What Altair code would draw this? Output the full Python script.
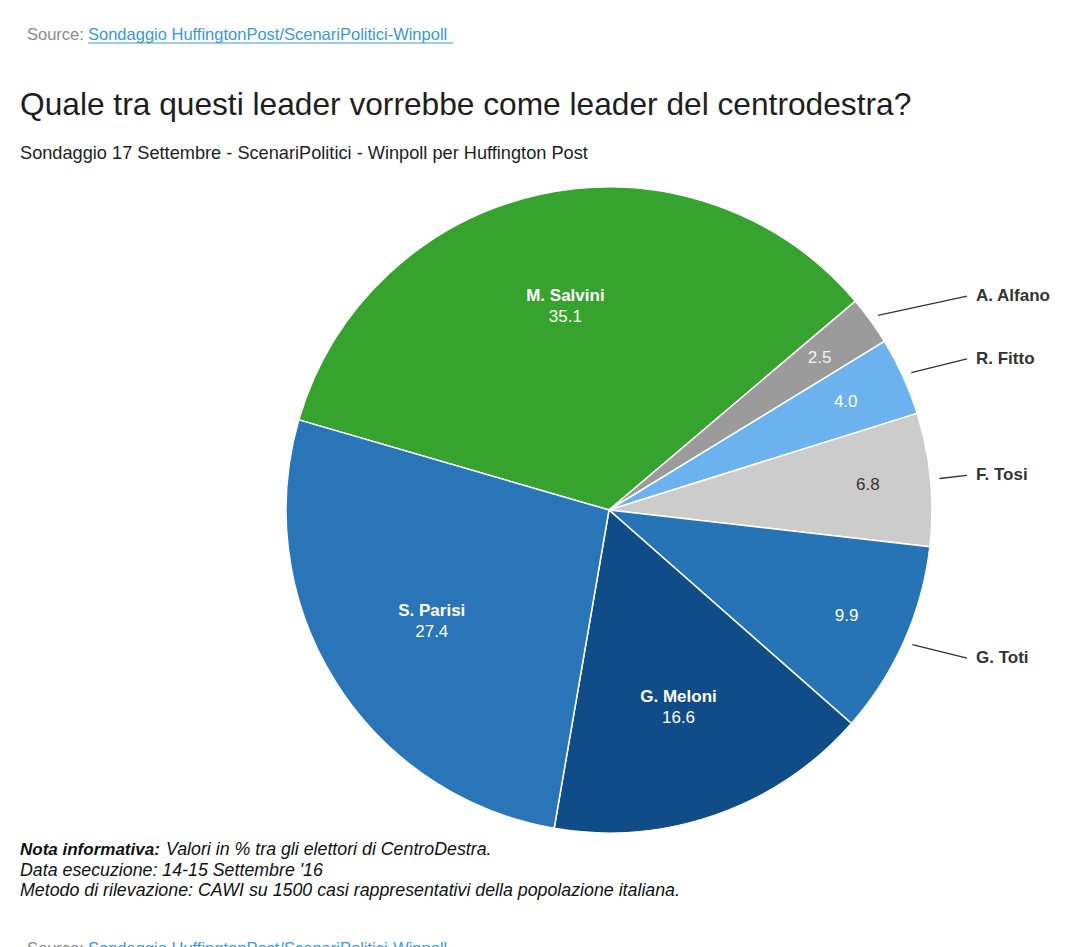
import math
import altair as alt
import pandas as pd

# ---- data ----
leaders = ["M. Salvini", "A. Alfano", "R. Fitto", "F. Tosi", "G. Toti", "G. Meloni", "S. Parisi"]
values = [35.1, 2.5, 4.0, 6.8, 9.9, 16.6, 27.4]
colors = ["#36a32e", "#9b9b9b", "#6cb2ef", "#cccccc", "#2673b5", "#0f4c88", "#2a74b8"]
inside_name = [True, False, False, False, False, True, True]
value_color = ["#ffffff", "#f4f4f4", "#ffffff", "#333333", "#ffffff", "#ffffff", "#ffffff"]

title_text = "Quale tra questi leader vorrebbe come leader del centrodestra?"
subtitle_text = "Sondaggio 17 Settembre - ScenariPolitici - Winpoll per Huffington Post"
source_label = "Source:"
source_link = "Sondaggio HuffingtonPost/ScenariPolitici-Winpoll"
note_bold = "Nota informativa:"
note_lines = [
    "Valori in % tra gli elettori di CentroDestra.",
    "Data esecuzione: 14-15 Settembre '16",
    "Metodo di rilevazione: CAWI su 1500 casi rappresentativi della popolazione italiana.",
]

# ---- layout / style ----
W, H = 1064, 945
CX, CY, R = 601, 502, 323
START = math.radians(-73.8)
FONT = "Liberation Sans"

df = pd.DataFrame({"leader": leaders, "value": values, "idx": range(len(leaders)),
                   "inside": inside_name, "vcolor": value_color})
df["name_in"] = [l if i else "" for l, i in zip(leaders, inside_name)]
df["val_in"] = [f"{v:.1f}" if i else "" for v, i in zip(values, inside_name)]
df["val_out"] = [f"{v:.1f}" if not i else "" for v, i in zip(values, inside_name)]

# derived positions for the external labels / connectors
total = sum(values)
cum = 0.0
mids = []
for v in values:
    mids.append(START + 2 * math.pi * (cum + v / 2) / total)
    cum += v
df["mid"] = mids
df["lx0"] = CX + (R + 9) * df["mid"].apply(math.sin)
df["ly0"] = CY - (R + 9) * df["mid"].apply(math.cos)
df["lx1"] = 959
df["ly1"] = CY - 365 * df["mid"].apply(math.cos)
df["tx"] = 968

theta = alt.Theta("value:Q", stack=True,
                  scale=alt.Scale(range=[START, START + 2 * math.pi]))
order = alt.Order("idx:Q")
color = alt.Color("leader:N", scale=alt.Scale(domain=leaders, range=colors), legend=None)

base = alt.Chart(df)

pie = base.mark_arc(outerRadius=R, stroke="white", strokeWidth=1.5).encode(
    theta=theta, order=order, color=color, x=alt.value(CX), y=alt.value(CY))

name_in = base.mark_text(font=FONT, fontSize=17, fontWeight="bold", color="white", dy=-10).encode(
    theta=theta, order=order, text="name_in:N", radius=alt.value(209),
    x=alt.value(CX), y=alt.value(CY))
val_in = base.mark_text(font=FONT, fontSize=17, color="white", dy=11).encode(
    theta=theta, order=order, text="val_in:N", radius=alt.value(209),
    x=alt.value(CX), y=alt.value(CY))
val_small = base.mark_text(font=FONT, fontSize=17).encode(
    theta=theta, order=order, text="val_out:N", radius=alt.value(260),
    color=alt.Color("vcolor:N", scale=None), x=alt.value(CX), y=alt.value(CY))

small = df[~df["inside"]]
connectors = alt.Chart(small).mark_rule(color="#333333", strokeWidth=1.3).encode(
    x=alt.X("lx0:Q", scale=None), y=alt.Y("ly0:Q", scale=None),
    x2="lx1:Q", y2="ly1:Q")
outer = alt.Chart(small).mark_text(font=FONT, fontSize=17, fontWeight="bold",
                                   color="#333333", align="left", baseline="middle").encode(
    x=alt.X("tx:Q", scale=None), y=alt.Y("ly1:Q", scale=None), text="leader:N")

one = pd.DataFrame({"k": [0]})
def txt(s, x, y, **kw):
    return alt.Chart(one).mark_text(text=s, align="left", baseline="alphabetic",
                                    font=FONT, **kw).encode(x=alt.value(x), y=alt.value(y))

src1 = txt(source_label, 19, 32, fontSize=16.5, color="#8a8a8a")
src2 = txt(source_link, 80, 32, fontSize=16.5, color="#3a98d8")
underline = alt.Chart(one).mark_rule(color="#3a98d8", strokeWidth=1).encode(
    x=alt.value(80), x2=alt.value(445), y=alt.value(35))
title = txt(title_text, 12, 107, fontSize=31.7, color="#1e1e1e")
subtitle = txt(subtitle_text, 12, 151, fontSize=18.2, color="#1e1e1e")
NF = 17.8
n0 = txt(note_bold, 12, 847, fontSize=17, fontWeight="bold", fontStyle="italic", color="#111111")
n1 = txt(note_lines[0], 158, 847, fontSize=NF, fontStyle="italic", color="#111111")
n2 = txt(note_lines[1], 12, 868, fontSize=NF, fontStyle="italic", color="#111111")
n3 = txt(note_lines[2], 12, 888, fontSize=NF, fontStyle="italic", color="#111111")
src3 = txt(source_label, 19, 946, fontSize=16.5, color="#8a8a8a")
src4 = txt(source_link, 80, 946, fontSize=16.5, color="#3a98d8")

chart = alt.layer(pie, name_in, val_in, val_small, connectors, outer,
                  src1, src2, underline, title, subtitle, n0, n1, n2, n3, src3, src4).properties(
    width=W, height=H, autosize=alt.AutoSizeParams(type="none"), padding=0,
    background="white"
).configure_view(stroke=None, strokeWidth=0)

chart.save("out.html", embed_options={"renderer": "svg", "actions": False})
